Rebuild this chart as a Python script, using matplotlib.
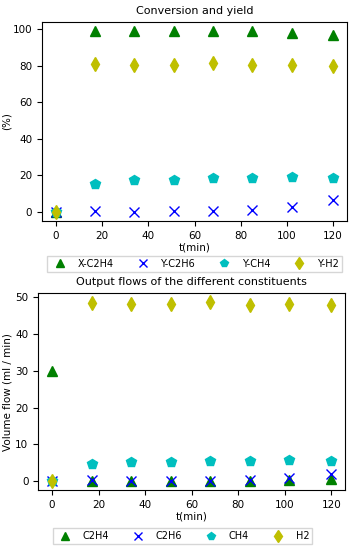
import numpy as np
import matplotlib.pyplot as plt

# time points (min)
t = [0, 17, 34, 51, 68, 85, 102, 120]

# conversion / yields (%)
x_c2h4 = [0, 99, 99, 99, 99, 99, 98.2, 97]
y_c2h6 = [0, 0.4, 0, 0.4, 0.4, 1.0, 3.0, 6.5]
y_ch4 = [0, 15.6, 17.5, 17.5, 18.5, 18.5, 19.4, 18.5]
y_h2 = [0, 81, 80.5, 80.5, 81.4, 80.5, 80.5, 80]

# output flows (ml/min)
f_c2h4 = [30, 0, 0, 0, 0, 0, 0.2, 0.6]
f_c2h6 = [0, 0.2, 0, 0, 0, 0.2, 0.8, 2.0]
f_ch4 = [0, 4.6, 5.3, 5.3, 5.5, 5.5, 5.8, 5.5]
f_h2 = [0, 48.5, 48.3, 48.3, 48.7, 48.0, 48.2, 48.0]

plt.rcParams['font.size'] = 7.5

fig = plt.figure(figsize=(3.53, 5.5), dpi=100)
ax1 = fig.add_axes([0.119, 0.598, 0.864, 0.362])
ax2 = fig.add_axes([0.108, 0.109, 0.870, 0.358])

ms = 7.5
ax1.plot(t, x_c2h4, '^', color='g', ms=ms, label='X-C2H4')
ax1.plot(t, y_c2h6, 'x', color='b', ms=ms, label='Y-C2H6')
ax1.plot(t, y_ch4, 'p', color='c', ms=ms, label='Y-CH4')
ax1.plot(t, y_h2, 'd', color='y', ms=ms, label='Y-H2')
ax1.set_title('Conversion and yield', fontsize=8)
ax1.set_xlabel('t(min)', labelpad=1)
ax1.set_ylabel('(%)')
ax1.yaxis.set_label_coords(-0.1, 0.5)
ax1.set_xticks(np.arange(0, 121, 20))
ax1.legend(loc='upper center', bbox_to_anchor=(0.5, -0.15), ncol=4,
           fancybox=False, fontsize=7, handletextpad=0.8, columnspacing=2.0,
           borderpad=0.3, markerscale=0.8)

ax2.plot(t, f_c2h4, '^', color='g', ms=ms, label='C2H4')
ax2.plot(t, f_c2h6, 'x', color='b', ms=ms, label='C2H6')
ax2.plot(t, f_ch4, 'p', color='c', ms=ms, label='CH4')
ax2.plot(t, f_h2, 'd', color='y', ms=ms, label='H2')
ax2.set_title('Output flows of the different constituents', fontsize=8)
ax2.set_xlabel('t(min)', labelpad=1)
ax2.set_ylabel('Volume flow (ml / min)')
ax2.yaxis.set_label_coords(-0.085, 0.5)
ax2.set_xticks(np.arange(0, 121, 20))
ax2.legend(loc='upper center', bbox_to_anchor=(0.47, -0.17), ncol=4,
           fancybox=False, fontsize=7, handletextpad=0.8, columnspacing=2.0,
           borderpad=0.3, markerscale=0.8)

fig.savefig('out.png', dpi=100)
